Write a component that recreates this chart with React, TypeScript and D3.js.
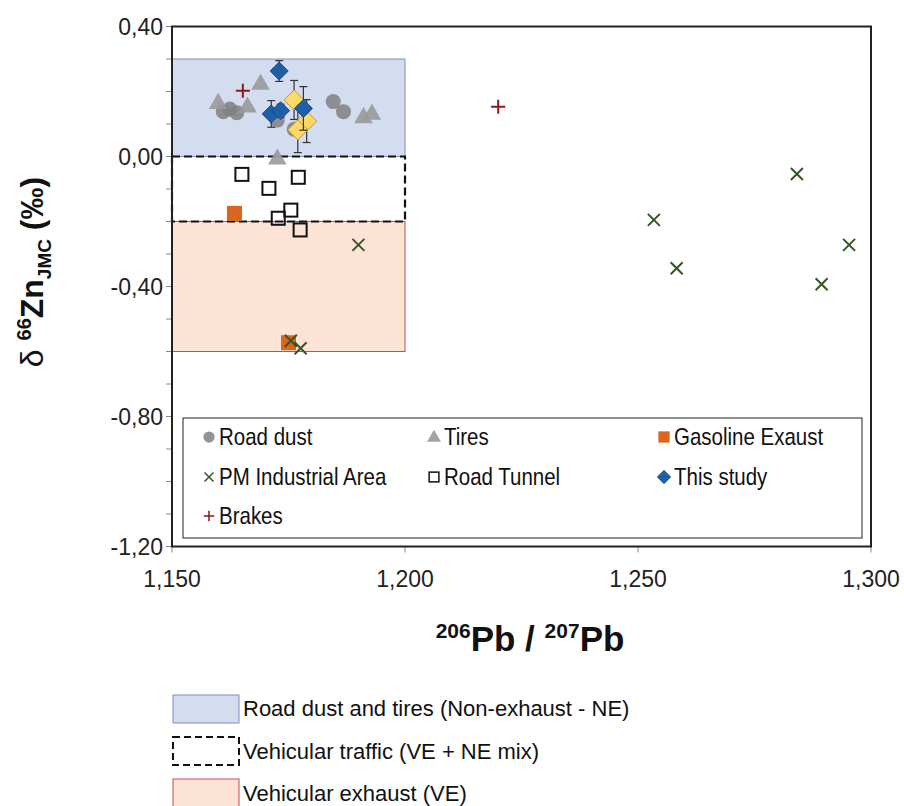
import React from 'react';
import * as d3 from 'd3';

// data: [206Pb/207Pb, d66Zn]
const roadDust: [number, number][] = [
  [1.161, 0.138], [1.1624, 0.146], [1.1639, 0.135], [1.1726, 0.112],
  [1.1762, 0.084], [1.1846, 0.169], [1.1868, 0.138],
];
const tires: [number, number][] = [
  [1.1599, 0.166], [1.1662, 0.155], [1.169, 0.225], [1.1726, -0.005],
  [1.1911, 0.122], [1.1929, 0.133],
];
const gasolineExaust: [number, number][] = [[1.1634, -0.175], [1.175, -0.573]];
const pmIndustrial: [number, number][] = [
  [1.19, -0.272], [1.1755, -0.567], [1.1776, -0.59], [1.2841, -0.054],
  [1.2534, -0.195], [1.2953, -0.272], [1.2583, -0.344], [1.2894, -0.393],
];
const roadTunnel: [number, number][] = [
  [1.165, -0.055], [1.1771, -0.064], [1.1708, -0.098],
  [1.1755, -0.165], [1.1728, -0.19], [1.1775, -0.226],
];
const brakes: [number, number][] = [[1.1652, 0.202], [1.22, 0.153]];
// [x, y, error]
const thisStudy: [number, number, number][] = [
  [1.173, 0.263, 0.032], [1.1713, 0.131, 0.041], [1.1733, 0.141, 0.02], [1.1782, 0.148, 0.067],
];
const thisStudyOther: [number, number, number][] = [
  [1.1762, 0.174, 0.06], [1.1789, 0.109, 0.066], [1.177, 0.082, 0.07],
];

const xTicks = [1.15, 1.2, 1.25, 1.3];
const yTicks = [0.4, 0, -0.4, -0.8, -1.2];
const yMinor = d3.range(-12, 5).map(d => d / 10);

// source zones: [x0, x1, yTop, yBottom]
const zoneNE = [1.15, 1.2, 0.3, 0];
const zoneMix = [1.15, 1.2, 0, -0.2];
const zoneVE = [1.15, 1.2, -0.2, -0.6];

const legendRows = [
  ['Road dust', 'Tires', 'Gasoline Exaust'],
  ['PM Industrial Area', 'Road Tunnel', 'This study'],
  ['Brakes'],
];
const zoneLabels = [
  'Road dust and tires (Non-exhaust - NE)',
  'Vehicular traffic (VE + NE mix)',
  'Vehicular exhaust (VE)',
];

const fmt = (v: number, n: number) => v.toFixed(n).replace('.', ',');

const x = d3.scaleLinear().domain([1.15, 1.3]).range([172, 871]);
const y = d3.scaleLinear().domain([-1.2, 0.4]).range([546.5, 26.5]);

const GRAY_C = '#808080';
const GRAY_T = '#999999';
const ORANGE = '#d9661f';
const GREEN = '#375623';
const RED = '#8b1a1a';
const BLUE = '#1f5fa8';
const YELLOW = '#ffd966';

const Marker = ({ kind, cx, cy }: { kind: string; cx: number; cy: number }) => {
  switch (kind) {
    case 'Road dust':
      return <circle cx={cx} cy={cy} r={7.5} fill={GRAY_C} fillOpacity={0.85} />;
    case 'Tires':
      return <path d={d3.symbol(d3.symbolTriangle, 150)()!} transform={`translate(${cx},${cy + 1})`} fill={GRAY_T} fillOpacity={0.9} />;
    case 'Gasoline Exaust':
      return <rect x={cx - 7.5} y={cy - 7.5} width={15} height={15} fill={ORANGE} />;
    case 'PM Industrial Area':
      return <path d={`M${cx - 6},${cy - 6}L${cx + 6},${cy + 6}M${cx - 6},${cy + 6}L${cx + 6},${cy - 6}`} stroke={GREEN} strokeWidth={2} />;
    case 'Road Tunnel':
      return <rect x={cx - 6.5} y={cy - 6.5} width={13} height={13} fill="none" stroke="#111" strokeWidth={2} />;
    case 'This study':
      return <path d={`M${cx},${cy - 9}L${cx + 9},${cy}L${cx},${cy + 9}L${cx - 9},${cy}Z`} fill={BLUE} stroke="#1a4a80" strokeWidth={1} />;
    case 'Other':
      return <path d={`M${cx},${cy - 10}L${cx + 10},${cy}L${cx},${cy + 10}L${cx - 10},${cy}Z`} fill={YELLOW} stroke="#b89a40" strokeWidth={1} />;
    case 'Brakes':
      return <path d={`M${cx - 7},${cy}L${cx + 7},${cy}M${cx},${cy - 7}L${cx},${cy + 7}`} stroke={RED} strokeWidth={2} />;
  }
  return null;
};

const ErrBar = ({ d }: { d: [number, number, number] }) => {
  const cx = x(d[0]);
  const t = y(d[1] + d[2]);
  const b = y(d[1] - d[2]);
  return (
    <g stroke="#333" strokeWidth={1.2}>
      <line x1={cx} x2={cx} y1={t} y2={b} />
      <line x1={cx - 4} x2={cx + 4} y1={t} y2={t} />
      <line x1={cx - 4} x2={cx + 4} y1={b} y2={b} />
    </g>
  );
};

const zoneRect = (z: number[]) => ({
  x: x(z[0]), y: y(z[2]), width: x(z[1]) - x(z[0]), height: y(z[3]) - y(z[2]),
});

export default function App() {
  const font = 'Liberation Sans, Arial, sans-serif';
  const colX = [209, 434, 664];
  const rowY = [437, 477, 516];
  return (
    <svg width={904} height={806} style={{ position: 'absolute', left: 0, top: 0, background: '#fff' }} fontFamily={font}>
      {/* zones */}
      <rect {...zoneRect(zoneNE)} fill="#d4dcf0" stroke="#7f8fc0" strokeWidth={1} />
      <rect {...zoneRect(zoneVE)} fill="#fde2d6" stroke="#c0504d" strokeWidth={1} />
      <rect {...zoneRect(zoneMix)} fill="none" stroke="#111" strokeWidth={2.2} strokeDasharray="8,4" />

      {/* y axis ticks */}
      {yMinor.map(v => (
        <line key={v} x1={x(1.15) - 6} x2={x(1.15)} y1={y(v)} y2={y(v)} stroke="#888" />
      ))}
      {yTicks.map(v => (
        <text key={v} x={163} y={y(v) + 8} textAnchor="end" fontSize={23} fill="#222">{fmt(v, 2)}</text>
      ))}
      {xTicks.map(v => (
        <g key={v}>
          <line x1={x(v)} x2={x(v)} y1={y(-1.2)} y2={y(-1.2) + 6} stroke="#888" />
          <text x={x(v)} y={587} textAnchor="middle" fontSize={23} fill="#222">{fmt(v, 3)}</text>
        </g>
      ))}

      {/* points */}
      {roadDust.map((d, i) => <Marker key={'rd' + i} kind="Road dust" cx={x(d[0])} cy={y(d[1])} />)}
      {tires.map((d, i) => <Marker key={'t' + i} kind="Tires" cx={x(d[0])} cy={y(d[1])} />)}
      {gasolineExaust.map((d, i) => <Marker key={'g' + i} kind="Gasoline Exaust" cx={x(d[0])} cy={y(d[1])} />)}
      {pmIndustrial.map((d, i) => <Marker key={'pm' + i} kind="PM Industrial Area" cx={x(d[0])} cy={y(d[1])} />)}
      {roadTunnel.map((d, i) => <Marker key={'rt' + i} kind="Road Tunnel" cx={x(d[0])} cy={y(d[1])} />)}
      {thisStudyOther.map((d, i) => <ErrBar key={'oe' + i} d={d} />)}
      {thisStudyOther.map((d, i) => <Marker key={'o' + i} kind="Other" cx={x(d[0])} cy={y(d[1])} />)}
      {thisStudy.map((d, i) => <ErrBar key={'se' + i} d={d} />)}
      {thisStudy.map((d, i) => <Marker key={'s' + i} kind="This study" cx={x(d[0])} cy={y(d[1])} />)}
      {brakes.map((d, i) => <Marker key={'b' + i} kind="Brakes" cx={x(d[0])} cy={y(d[1])} />)}

      {/* legend inside plot */}
      <rect x={183} y={418} width={679} height={120} fill="#fff" stroke="#222" strokeWidth={1} />
      {legendRows.map((row, ri) =>
        row.map((name, ci) => (
          <g key={name}>
            <g transform={`translate(${colX[ci]},${rowY[ri]}) scale(0.75) translate(${-colX[ci]},${-rowY[ri]})`}>
              <Marker kind={name} cx={colX[ci]} cy={rowY[ri]} />
            </g>
            <text transform={`translate(${colX[ci] + 10},${rowY[ri] + 8}) scale(1,1.2)`} fontSize={20.5} fill="#111">{name}</text>
          </g>
        ))
      )}

      {/* frame */}
      <rect x={x(1.15)} y={y(0.4)} width={x(1.3) - x(1.15)} height={y(-1.2) - y(0.4)} fill="none" stroke="#222" strokeWidth={2} />

      {/* axis titles */}
      <text x={530} y={651} textAnchor="middle" fontSize={35} fontWeight="bold" fill="#111">
        <tspan fontSize={21} dy={-13}>206</tspan>
        <tspan dy={13}>Pb / </tspan>
        <tspan fontSize={21} dy={-13}>207</tspan>
        <tspan dy={13}>Pb</tspan>
      </text>
      <text transform="translate(43,272) rotate(-90)" textAnchor="middle" fontSize={32} fill="#111">
        <tspan>δ </tspan>
        <tspan fontWeight="bold" fontSize={20} dy={-12}>66</tspan>
        <tspan fontWeight="bold" dy={12}>Zn</tspan>
        <tspan fontWeight="bold" fontSize={19} dy={8}>JMC</tspan>
        <tspan fontWeight="bold" dy={-8}> (‰)</tspan>
      </text>

      {/* zone legend below */}
      <rect x={173} y={695} width={66} height={28} fill="#d4dcf0" stroke="#7f8fc0" />
      <rect x={173} y={737} width={66} height={28} fill="none" stroke="#111" strokeWidth={2} strokeDasharray="7,4" />
      <rect x={173} y={779} width={66} height={28} fill="#fde2d6" stroke="#c0504d" />
      {zoneLabels.map((t, i) => (
        <text key={t} x={243} y={716 + i * 42.5} fontSize={22} fill="#111">{t}</text>
      ))}
    </svg>
  );
}
